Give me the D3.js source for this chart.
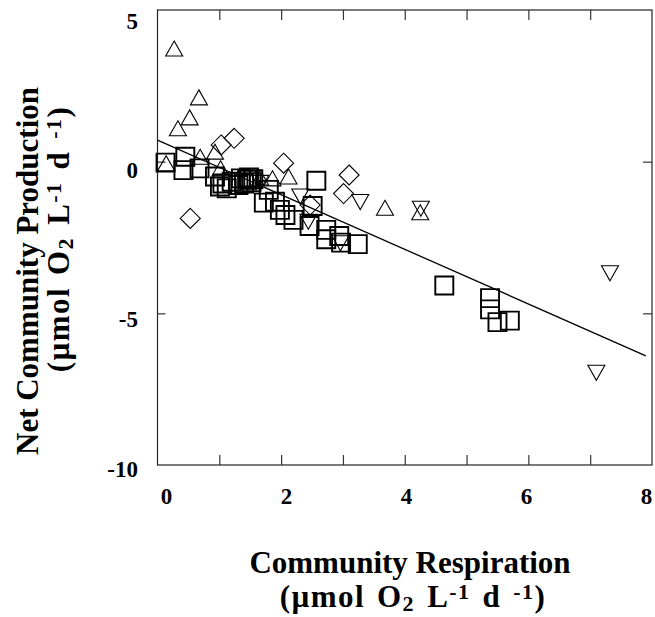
<!DOCTYPE html>
<html>
<head>
<meta charset="utf-8">
<script src="https://cdn.jsdelivr.net/npm/d3@7"></script>
<style>
  body { margin: 0; background: #fff; }
  text { font-family: "Liberation Serif", "Times New Roman", serif; font-weight: bold; fill: #000; }
</style>
</head>
<body>
<svg id="chart" width="655" height="617"></svg>
<script>
// community respiration (x) vs net community production (y), one list per symbol
var squaresCR  = [0.13, 0.45, 0.42, 0.68, 0.93, 1.01, 1.12, 1.20, 1.31, 1.45, 1.48, 1.52, 1.40, 1.55, 1.05, 1.35,
                  1.72, 1.80, 1.90, 1.98, 2.07, 2.20, 2.46, 2.51, 2.57, 2.73, 2.73, 2.94, 2.97, 3.24,
                  4.64, 5.38, 5.38, 5.50, 5.70];
var squaresNCP = [-0.03, 0.16, -0.28, -0.22, -0.49, -0.82, -0.88, -0.66, -0.77, -0.60, -0.52, -0.68, -0.72, -0.58, -0.72, -0.55,
                  -1.35, -0.93, -1.32, -1.59, -1.76, -1.92, -2.12, -1.46, -0.63, -2.25, -2.56, -2.45, -2.67, -2.72,
                  -4.08, -4.50, -4.87, -5.29, -5.24];

var triUpCR  = [0.27, 0.67, 0.52, 0.33, 0.14, 0.69, 0.93, 1.02, 1.66, 1.86, 2.12, 3.68, 4.25];
var triUpNCP = [3.73, 2.12, 1.46, 1.10, -0.05, 0.16, 0.33, -0.22, -0.52, -0.55, -0.49, -1.52, -1.67];

var diamondCR  = [1.03, 1.24, 2.04, 3.10, 0.53, 3.01, 2.47];
var diamondNCP = [0.55, 0.77, -0.05, -0.44, -1.87, -1.05, -1.43];

var triDownCR  = [3.28, 4.26, 7.32, 7.10, 2.31, 2.44, 2.96, 1.66];
var triDownNCP = [-1.33, -1.55, -3.68, -6.96, -1.15, -1.98, -2.69, -0.70];

// least squares line
var fitIntercept = 0.71;
var fitSlope = -0.9;
var fitRange = [0, 7.9];

var xTicks = [1, 2, 3, 4, 5, 6, 7];
var xLabels = [0, 2, 4, 6, 8];
var yTicks = [0, -5];
var yLabels = [5, 0, -5, -10];

var svg = d3.select("#chart");
var plotL = 157.5, plotR = 652, plotT = 10, plotB = 465;

var x = d3.scaleLinear().domain([0, 8]).range([plotL, plotR]);
var y = d3.scaleLinear().domain([-10, 5]).range([plotB, plotT]);
// the printed numbers sit a little off the tick marks
var xLab = d3.scaleLinear().domain([0, 8]).range([166.5, 646.5]);
var yLab = d3.scaleLinear().domain([-10, 5]).range([469, 21]);

function pts(xs, ys) { return xs.map((v, i) => ({cr: v, ncp: ys[i]})); }

// frame
svg.append("rect")
  .attr("x", plotL).attr("y", plotT)
  .attr("width", plotR - plotL).attr("height", plotB - plotT)
  .attr("fill", "none").attr("stroke", "#222").attr("stroke-width", 1.2);

function ticksOnly(g) {
  g.select(".domain").remove();
  g.selectAll(".tick line").attr("stroke", "#333").attr("stroke-width", 1.2);
  g.selectAll(".tick text").remove();
}
svg.append("g").attr("transform", `translate(0,${plotB})`)
  .call(d3.axisBottom(x).tickValues(xTicks).tickSize(-10)).call(ticksOnly);
svg.append("g").attr("transform", `translate(0,${plotT})`)
  .call(d3.axisTop(x).tickValues(xTicks).tickSize(-10)).call(ticksOnly);
svg.append("g").attr("transform", `translate(${plotL},0)`)
  .call(d3.axisLeft(y).tickValues(yTicks).tickSize(-8)).call(ticksOnly);
svg.append("g").attr("transform", `translate(${plotR},0)`)
  .call(d3.axisRight(y).tickValues(yTicks).tickSize(-9)).call(ticksOnly);

// tick labels
svg.append("g").selectAll("text")
  .data(xLabels).join("text")
  .attr("x", d => xLab(d)).attr("y", 504)
  .attr("text-anchor", "middle")
  .style("font-size", "23px")
  .text(d => d);
svg.append("g").selectAll("text")
  .data(yLabels).join("text")
  .attr("x", 138).attr("y", d => yLab(d))
  .attr("dy", "0.34em")
  .attr("text-anchor", "end")
  .style("font-size", "23px")
  .text(d => d);

// regression line
svg.append("path")
  .datum(fitRange)
  .attr("fill", "none").attr("stroke", "#000").attr("stroke-width", 1.3)
  .attr("d", d3.line().x(d => x(d)).y(d => y(fitIntercept + fitSlope * d)));

// symbols
var sq = 9, tw = 8.5, th = 7.5, dm = 10;
var shapes = {
  square: `M${-sq},${-sq}H${sq}V${sq}H${-sq}Z`,
  up: `M0,${-th}L${tw},${th}L${-tw},${th}Z`,
  down: `M0,${th}L${tw},${-th}L${-tw},${-th}Z`,
  diamond: `M0,${-dm}L${dm},0L0,${dm}L${-dm},0Z`
};
function plot(data, shape, width) {
  svg.append("g").selectAll("path")
    .data(data).join("path")
    .attr("transform", d => `translate(${x(d.cr)},${y(d.ncp)})`)
    .attr("d", shapes[shape])
    .attr("fill", "none").attr("stroke", "#000").attr("stroke-width", width);
}
plot(pts(triUpCR, triUpNCP), "up", 1.1);
plot(pts(diamondCR, diamondNCP), "diamond", 1.1);
plot(pts(triDownCR, triDownNCP), "down", 1.1);
plot(pts(squaresCR, squaresNCP), "square", 1.9);

// axis titles, second line carries sub/superscripts
function unitLine(t) {
  t.style("font-size", "31px").style("letter-spacing", "1.4px").style("word-spacing", "3px");
  t.append("tspan").text("(\u00b5mol O");
  t.append("tspan").attr("dy", 4).style("font-size", "22px").text("2");
  t.append("tspan").attr("dy", -4).text(" L");
  t.append("tspan").attr("dy", -8).style("font-size", "22px").text("-1");
  t.append("tspan").attr("dy", 8).text(" d ");
  t.append("tspan").attr("dy", -8).style("font-size", "22px").text("-1");
  t.append("tspan").attr("dy", 8).text(")");
}

var xt = svg.append("g").attr("transform", "translate(410,0)");
xt.append("text").attr("y", 573).attr("text-anchor", "middle")
  .style("font-size", "31px").text("Community Respiration");
xt.append("text").attr("x", 3).attr("y", 607).attr("text-anchor", "middle")
  .call(unitLine);

var yt = svg.append("g").attr("transform", "translate(0,271) rotate(-90)");
yt.append("text").attr("y", 38).attr("text-anchor", "middle")
  .style("font-size", "31px").text("Net Community Production");
yt.append("text").attr("x", 32).attr("y", 69).attr("text-anchor", "middle")
  .call(unitLine);
</script>
</body>
</html>
